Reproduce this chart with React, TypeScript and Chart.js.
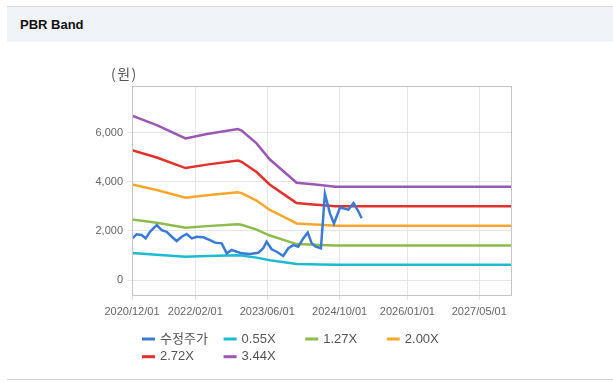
import React, { useEffect, useRef } from "react";
import { Chart, registerables } from "chart.js";

Chart.register(...registerables);

// ---- data ----
const priceDates = [
  "2020-12-03", "2021-01-01", "2021-02-04", "2021-03-03", "2021-04-01", "2021-05-17",
  "2021-06-19", "2021-07-23", "2021-08-26", "2021-09-28", "2021-11-01", "2021-12-05",
  "2022-01-08", "2022-02-10", "2022-03-27", "2022-05-11", "2022-06-14", "2022-07-29",
  "2022-09-01", "2022-10-04", "2022-12-11", "2023-02-05", "2023-04-02", "2023-05-05",
  "2023-05-28", "2023-07-01", "2023-08-04", "2023-09-17", "2023-10-21", "2023-11-24",
  "2023-12-27", "2024-01-30", "2024-02-29", "2024-03-27", "2024-04-23", "2024-05-28",
  "2024-06-24", "2024-07-28", "2024-08-24", "2024-10-04", "2024-11-29", "2025-01-03",
  "2025-01-31", "2025-02-27",
];
const priceValues = [
  1690, 1860, 1830, 1690, 1960, 2235,
  2030, 1960, 1760, 1585, 1760, 1870,
  1690, 1760, 1735, 1625, 1520, 1490,
  1085, 1220, 1085, 1057, 1110, 1290,
  1557, 1250, 1150, 976, 1290, 1420,
  1355, 1690, 1925, 1490, 1355, 1290,
  3500, 2710, 2300, 2950, 2860, 3130,
  2845, 2510,
];

const bandDates = [
  "2020-12-01", "2021-05-17", "2021-11-27", "2022-04-20", "2022-11-15", "2022-12-10",
  "2023-03-21", "2023-06-19", "2023-10-31", "2023-12-16", "2024-03-15", "2024-05-22",
  "2024-09-01", "2027-12-01",
];
const band055 = [1095, 1030, 950, 975, 1005, 995, 910, 800, 690, 650, 640, 635, 625, 625];
const band127 = [2466, 2325, 2126, 2191, 2267, 2244, 2051, 1808, 1551, 1461, 1440, 1425, 1401, 1401];
const band200 = [3884, 3662, 3348, 3450, 3570, 3534, 3230, 2848, 2442, 2300, 2268, 2244, 2206, 2206];
const band272 = [5282, 4980, 4553, 4692, 4855, 4806, 4393, 3873, 3321, 3128, 3084, 3052, 3000, 3000];
const band344 = [6680, 6300, 5760, 5935, 6140, 6080, 5555, 4900, 4200, 3955, 3900, 3860, 3795, 3795];

const seriesNames = ["수정주가", "0.55X", "1.27X", "2.00X", "2.72X", "3.44X"];
const seriesColors = ["#3a7bd5", "#1bbcd0", "#8dbb4c", "#f9a62c", "#e2312a", "#9a57b3"];

const xTickLabels = ["2020/12/01", "2022/02/01", "2023/06/01", "2024/10/01", "2026/01/01", "2027/05/01"];
const xMinDate = "2020-12-01";
const xMaxDate = "2027-12-01";
const yTickValues = [0, 2000, 4000, 6000];
const yMin = -610;
const yMax = 7890;
const unitLabel = "(원)";

const FONT = '"Liberation Sans", Arial, "Noto Sans CJK KR", sans-serif';

const toTime = (d: string) => Date.parse(d.replace(/\//g, "-"));
const toPoints = (dates: string[], vals: number[]) =>
  dates.map((d, i) => ({ x: toTime(d), y: vals[i] }));

const frameAndLegend = {
  id: "frameAndLegend",
  afterDraw(chart: any) {
    const { ctx, chartArea } = chart;
    ctx.save();
    // plot frame
    ctx.strokeStyle = "#c4c4c4";
    ctx.lineWidth = 1;
    ctx.strokeRect(
      Math.round(chartArea.left) + 0.5,
      Math.round(chartArea.top) + 0.5,
      Math.round(chartArea.right - chartArea.left),
      Math.round(chartArea.bottom - chartArea.top)
    );
    // unit label
    ctx.fillStyle = "#555";
    ctx.font = '14px "Noto Sans CJK KR", sans-serif';
    ctx.textBaseline = "middle";
    ctx.textAlign = "left";
    try { (ctx as any).letterSpacing = "1.5px"; } catch (e) {}
    ctx.fillText(unitLabel, 104, 32);
    try { (ctx as any).letterSpacing = "0px"; } catch (e) {}
    // legend
    ctx.font = `13px ${FONT}`;
    chart.data.datasets.forEach((ds: any, i: number) => {
      const col = i % 4;
      const row = Math.floor(i / 4);
      const x = 135 + col * 81.6;
      const y = 297 + row * 17.7;
      ctx.fillStyle = ds.borderColor;
      ctx.fillRect(x, y - 1.5, 13, 3);
      ctx.fillStyle = "#555";
      ctx.fillText(ds.label, x + 18, y);
    });
    ctx.restore();
  },
};

export default function App() {
  const ref = useRef<HTMLCanvasElement | null>(null);

  useEffect(() => {
    if (!ref.current) return;
    const bands = [band055, band127, band200, band272, band344];
    const datasets: any[] = [
      {
        label: seriesNames[0],
        data: toPoints(priceDates, priceValues),
        borderColor: seriesColors[0],
        backgroundColor: seriesColors[0],
        borderWidth: 2.5,
      },
      ...bands.map((b, i) => ({
        label: seriesNames[i + 1],
        data: toPoints(bandDates, b),
        borderColor: seriesColors[i + 1],
        backgroundColor: seriesColors[i + 1],
        borderWidth: 2.5,
      })),
    ];
    const chart = new Chart(ref.current, {
      type: "line",
      data: { datasets },
      options: {
        animation: false,
        responsive: false,
        layout: { padding: { left: 0, right: 102, top: 44, bottom: 0 } },
        elements: { point: { radius: 0 }, line: { tension: 0 } },
        plugins: { legend: { display: false }, tooltip: { enabled: false } },
        scales: {
          x: {
            type: "linear",
            min: toTime(xMinDate),
            max: toTime(xMaxDate),
            afterBuildTicks: (scale: any) => {
              scale.ticks = xTickLabels.map((l) => ({ value: toTime(l) }));
            },
            afterFit: (scale: any) => {
              scale.height = 84;
            },
            grid: { color: "#e6e6e6", tickLength: 5, drawTicks: true },
            border: { display: false },
            ticks: {
              autoSkip: false,
              maxRotation: 0,
              padding: 5,
              color: "#666",
              font: { family: FONT, size: 11 },
              callback: (_v: any, i: number) => xTickLabels[i],
            },
          },
          y: {
            type: "linear",
            min: yMin,
            max: yMax,
            afterBuildTicks: (scale: any) => {
              scale.ticks = yTickValues.map((v) => ({ value: v }));
            },
            afterFit: (scale: any) => {
              scale.width = 125;
            },
            grid: { color: "#e6e6e6", tickLength: 5 },
            border: { display: false },
            ticks: {
              padding: 4,
              color: "#666",
              font: { family: FONT, size: 11 },
              callback: (v: any) => Number(v).toLocaleString("en-US"),
            },
          },
        },
      },
      plugins: [frameAndLegend],
    });
    return () => chart.destroy();
  }, []);

  return (
    <div style={{ position: "absolute", left: 0, top: 0, width: 613, height: 383, background: "#fff" }}>
      <div
        style={{
          position: "absolute",
          left: 7,
          top: 6,
          width: 606,
          height: 35,
          borderTop: "1px solid #d9d9d9",
          background: "#f0f3f8",
          boxSizing: "content-box",
          fontFamily: FONT,
          fontWeight: "bold",
          fontSize: 13,
          lineHeight: "35px",
          color: "#111",
          paddingLeft: 0,
        }}
      >
        <span style={{ marginLeft: 13 }}>PBR Band</span>
      </div>
      <canvas
        ref={ref}
        width={606}
        height={337}
        style={{ position: "absolute", left: 7, top: 42, width: 606, height: 337 }}
      />
      <div style={{ position: "absolute", left: 7, top: 379, width: 606, height: 1, background: "#d6d6d6" }} />
    </div>
  );
}
